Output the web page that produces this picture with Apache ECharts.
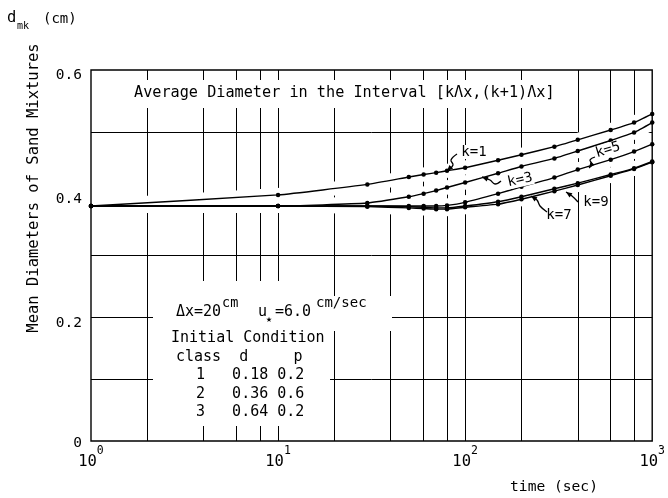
<!DOCTYPE html>
<html><head><meta charset="utf-8">
<script src="https://cdn.jsdelivr.net/npm/echarts@6/dist/echarts.min.js"></script>
<style>html,body{margin:0;padding:0;background:#fff}#c{width:668px;height:498px}</style>
</head><body><div id="c"></div>
<script>
// ---- data ----
const times = [1, 10, 30, 50, 60, 70, 80, 100, 150, 200, 300, 400, 600, 800, 1000];
const k1 = [0.380, 0.398, 0.415, 0.427, 0.431, 0.434, 0.437, 0.442, 0.454, 0.463, 0.476, 0.487, 0.503, 0.515, 0.529];
const k3 = [0.380, 0.380, 0.385, 0.395, 0.400, 0.405, 0.410, 0.418, 0.433, 0.444, 0.457, 0.469, 0.486, 0.499, 0.515];
const k5 = [0.380, 0.380, 0.380, 0.380, 0.380, 0.380, 0.381, 0.386, 0.400, 0.411, 0.426, 0.439, 0.455, 0.468, 0.480];
const k7 = [0.380, 0.380, 0.380, 0.379, 0.378, 0.377, 0.377, 0.380, 0.387, 0.395, 0.408, 0.417, 0.431, 0.441, 0.452];
const k9 = [0.380, 0.380, 0.379, 0.377, 0.376, 0.375, 0.375, 0.378, 0.383, 0.391, 0.404, 0.414, 0.429, 0.440, 0.451];
const curveNames = ['k=1', 'k=3', 'k=5', 'k=7', 'k=9'];
const xGridValues = [2, 4, 6, 8, 10, 20, 40, 60, 80, 100, 200, 400, 600, 800];
const yGridValues = [0.1, 0.2, 0.3, 0.5];
const yTickValues = [0, 0.2, 0.4, 0.6];
const xTickLabelsExp = ['0', '1', '2', '3'];
const titleText = 'Average Diameter in the Interval [kΛx,(k+1)Λx]';
const yName = 'Mean Diameters of Sand Mixtures';
const xName = 'time (sec)';
const tableHeader = 'Initial Condition';
const tableCols = 'class  d     p';
const tableRows = ['1   0.18 0.2', '2   0.36 0.6', '3   0.64 0.2'];

// ---- chart ----
const FONT = '"DejaVu Sans Mono", "Liberation Mono", monospace';
const chart = echarts.init(document.getElementById('c'), null, {renderer: 'canvas'});
const allCurves = [k1, k3, k5, k7, k9];
const pairs = arr => times.map((t, i) => [t, arr[i]]);

const series = [];
// grid lines via markLine (through the axes' scales)
series.push({
  type: 'line', data: [], z: 1, silent: true, symbol: 'none',
  markLine: {
    z: 1, silent: true, symbol: ['none', 'none'], label: {show: false},
    lineStyle: {color: '#000', width: 1, type: 'solid'},
    emphasis: {disabled: true},
    data: xGridValues.map(v => ({xAxis: v})).concat(yGridValues.map(v => ({yAxis: v})))
  }
});
// white halos (grid lines in the original are broken around the curves)
allCurves.forEach(arr => series.push({
  type: 'line', data: pairs(arr), z: 3, silent: true, showSymbol: false, symbol: 'none',
  smooth: 0.15, clip: true,
  lineStyle: {color: '#fff', width: 14}
}));
// curves
allCurves.forEach((arr, i) => series.push({
  name: curveNames[i], type: 'line', data: pairs(arr), z: 5,
  smooth: 0.15, clip: true,
  symbol: 'circle', symbolSize: 4.5, showSymbol: true,
  itemStyle: {color: '#000'},
  lineStyle: {color: '#000', width: 1.4}
}));

function txt(text, x, y, size, o) {
  o = o || {};
  return {
    type: 'text', x: x, y: y, z: 30, silent: true, rotation: o.rot || 0,
    style: {
      text: text, font: size + 'px ' + FONT, fill: '#000',
      align: o.align || 'left', verticalAlign: o.va || 'middle',
      textAlign: o.align || 'left', textVerticalAlign: o.va || 'middle',
      backgroundColor: o.bg, padding: o.pad
    }
  };
}
function rect(x, y, w, h) {
  return {type: 'rect', z: 2, silent: true, shape: {x: x, y: y, width: w, height: h}, style: {fill: '#fff'}};
}
function arrow(pts) {
  const n = pts.length;
  const [x1, y1] = pts[n - 2], [x2, y2] = pts[n - 1];
  const a = Math.atan2(y2 - y1, x2 - x1), L = 6, W = 2.6;
  const bx = x2 - L * Math.cos(a), by = y2 - L * Math.sin(a);
  const px = -Math.sin(a) * W, py = Math.cos(a) * W;
  return [
    {type: 'polyline', z: 30, silent: true, shape: {points: pts, smooth: 0.4}, style: {stroke: '#000', lineWidth: 1.3, fill: null}},
    {type: 'polygon', z: 30, silent: true, shape: {points: [[x2, y2], [bx + px, by + py], [bx - px, by - py]]}, style: {fill: '#000'}}
  ];
}

const graphics = [
  rect(130, 80, 430, 28),
  rect(153, 281, 177, 145),
  rect(330, 296, 62, 35),
  txt(titleText, 134, 93, 15.2),
  txt('d', 7, 18, 15.5),
  txt('mk', 17, 26, 10),
  txt('(cm)', 43, 19, 14),
  txt(yName, 34, 188, 15.5, {align: 'center', rot: Math.PI / 2}),
  txt(xName, 554, 487, 14.6, {align: 'center'}),
  txt('Δx=20', 176, 312, 15),
  txt('cm', 222, 303, 13.5),
  txt('u', 258, 312, 15),
  txt('★', 266, 319, 10),
  txt('=6.0', 275, 312, 15),
  txt('cm/sec', 316, 303, 14),
  txt(tableHeader, 171, 338, 15),
  txt(tableCols, 176, 357, 15),
  txt(tableRows[0], 196, 375, 15),
  txt(tableRows[1], 196, 394, 15),
  txt(tableRows[2], 196, 412, 15),
  txt(curveNames[0], 474, 152, 14, {align: 'center', bg: '#fff', pad: [0, 1]}),
  txt(curveNames[1], 520, 180, 14, {align: 'center', rot: 0.22, bg: '#fff', pad: [0, 1]}),
  txt(curveNames[2], 608, 150, 14, {align: 'center', rot: 0.3, bg: '#fff', pad: [0, 1]}),
  txt(curveNames[3], 559, 215, 14, {align: 'center', bg: '#fff', pad: [0, 1]}),
  txt(curveNames[4], 596, 202, 14, {align: 'center', bg: '#fff', pad: [0, 1]})
].concat(
  arrow([[457, 154], [451, 160], [453, 165], [447, 171]]),
  arrow([[501, 181], [495, 184], [490, 180], [482, 177]]),
  arrow([[595, 157], [590, 160], [592, 164], [589, 168]]),
  arrow([[547, 212], [540, 206], [537, 200], [531, 196]]),
  arrow([[578, 202], [572, 196], [566, 192]])
);

chart.setOption({
  animation: false,
  backgroundColor: '#fff',
  grid: {left: 91, right: 10, top: 70, bottom: 57, show: true, z: 40,
         borderColor: '#000', borderWidth: 1.4, backgroundColor: 'transparent'},
  xAxis: {
    type: 'log', logBase: 10, min: 1, max: 1000,
    axisLine: {show: false}, axisTick: {show: false}, splitLine: {show: false},
    axisLabel: {
      margin: 4, color: '#000',
      formatter: v => '{b|10}{s|' + xTickLabelsExp[Math.round(Math.log10(v))] + '}',
      rich: {
        b: {fontSize: 15.5, fontFamily: FONT, color: '#000', verticalAlign: 'bottom', padding: [9, 0, 0, 0]},
        s: {fontSize: 11.5, fontFamily: FONT, color: '#000', verticalAlign: 'top', padding: [0, 0, 12, 0]}
      }
    }
  },
  yAxis: {
    type: 'value', min: 0, max: 0.6, interval: 0.2,
    axisLine: {show: false}, axisTick: {show: false}, splitLine: {show: false},
    axisLabel: {
      margin: 9, color: '#000',
      formatter: v => {
        const i = yTickValues.findIndex(t => Math.abs(t - v) < 1e-9);
        return i === 0 ? '{z|0}' : '{n|' + yTickValues[i].toFixed(1) + '}';
      },
      rich: {
        n: {fontSize: 14.5, fontFamily: FONT, color: '#000', padding: [11, 0, 0, 0]},
        z: {fontSize: 14.5, fontFamily: FONT, color: '#000', padding: [4, 0, 0, 0]}
      }
    }
  },
  series: series,
  graphic: graphics
});
</script>
</body></html>
